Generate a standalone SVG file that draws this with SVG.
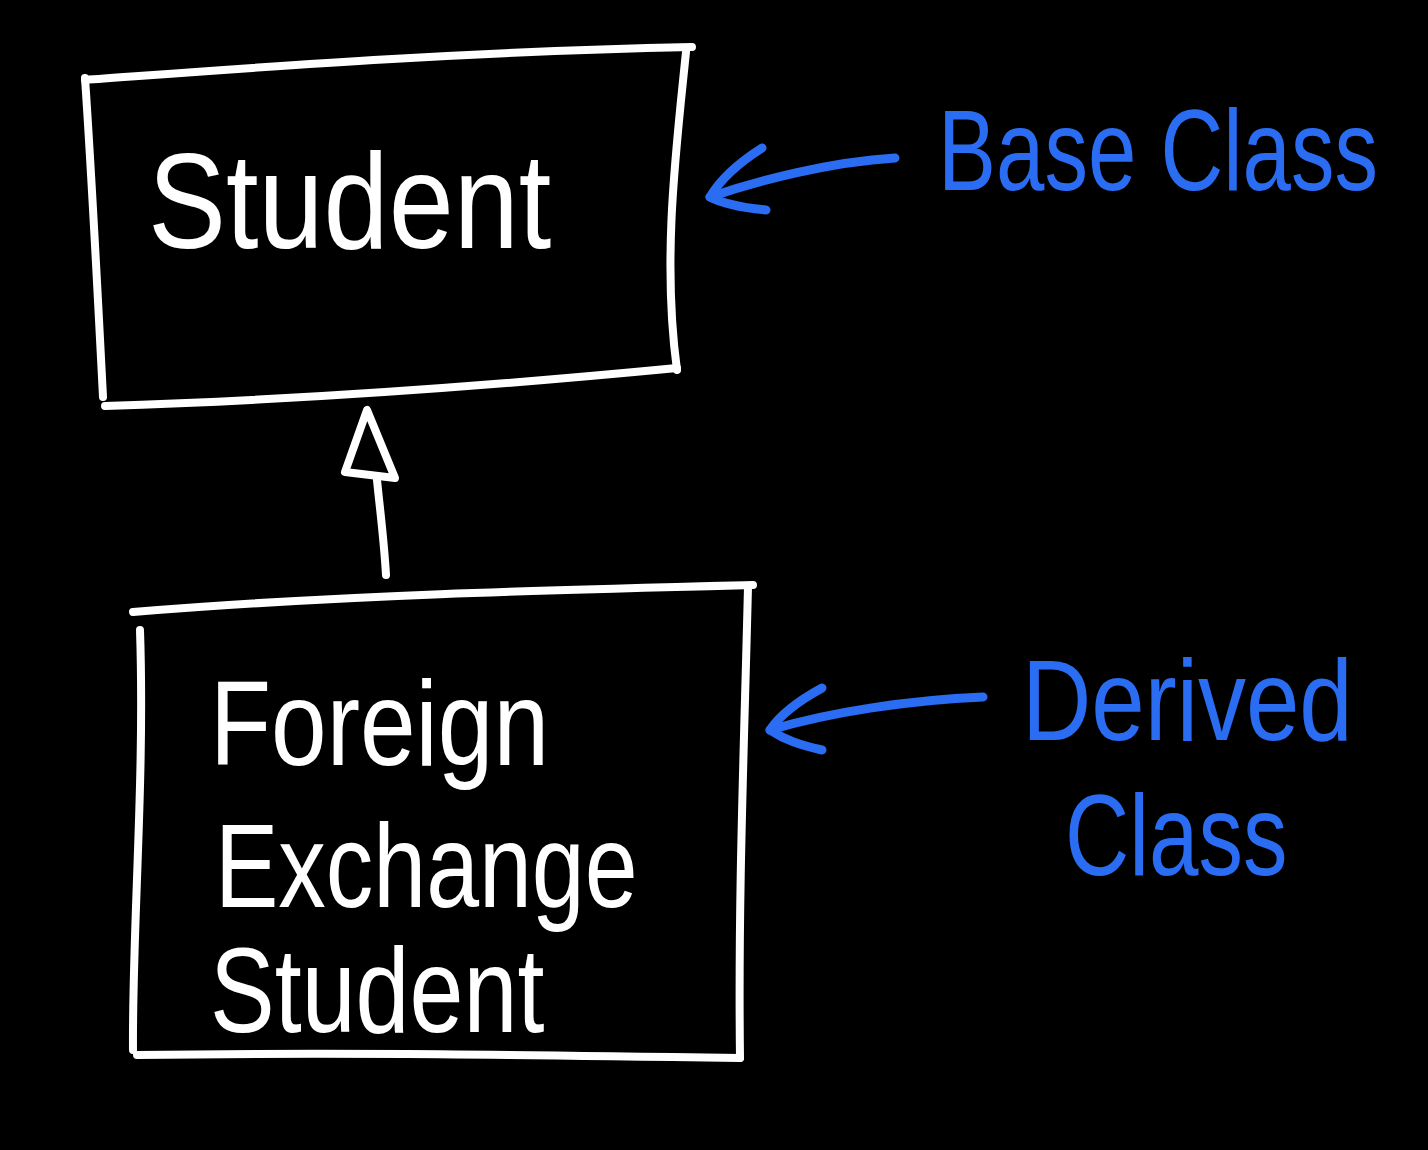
<svg xmlns="http://www.w3.org/2000/svg" width="1428" height="1150" viewBox="0 0 1428 1150">
<style>
.w{fill:none;stroke:#fff;stroke-width:8;stroke-linecap:round;stroke-linejoin:round}
.b{fill:none;stroke:#2a6cf2;stroke-width:9;stroke-linecap:round;stroke-linejoin:round}
.tw{fill:#fff;font-family:"Liberation Sans","DejaVu Sans",sans-serif}
.tb{fill:#2a6cf2;font-family:"Liberation Sans","DejaVu Sans",sans-serif}
</style>
<rect width="1428" height="1150" fill="#000"/>
<g id="student">
<path class="w" d="M85,80 C250,68 450,52 692,47"/>
<path class="w" d="M686,52 C676,150 662,260 677,370"/>
<path class="w" d="M85,78 C92,180 98,300 103,397"/>
<path class="w" d="M105,406 C300,400 500,385 677,368"/>
<text class="tw" transform="translate(148,248) scale(1,1.15)" font-size="117">Student</text>
</g>
<g id="foreign">
<path class="w" d="M133,612 C340,595 550,590 753,585"/>
<path class="w" d="M748,587 C744,750 738,900 740,1058"/>
<path class="w" d="M140,630 C145,780 132,930 133,1050"/>
<path class="w" d="M137,1055 C340,1052 540,1055 740,1058"/>
<text class="tw" transform="translate(210,765) scale(1,1.2)" font-size="100">Foreign</text>
<text class="tw" transform="translate(215,907) scale(1,1.25)" font-size="95">Exchange</text>
<text class="tw" transform="translate(210,1032) scale(1,1.24)" font-size="97">Student</text>
</g>
<g id="connectors">
<path class="w" d="M386,575 C384,540 380,510 377,480"/>
<path class="w" d="M367,410 L345,472 L395,478 Z"/>
<path class="b" d="M895,158 C830,162 760,180 710,197"/>
<path class="b" d="M762,148 C740,162 720,180 710,197 C725,205 745,208 766,210"/>
<path class="b" d="M983,697 C910,700 830,712 770,730"/>
<path class="b" d="M822,688 C800,700 780,715 770,730 C785,740 800,745 822,750"/>
</g>
<g id="labels">
<text class="tb" transform="translate(938,190) scale(1,1.32)" font-size="87">Base Class</text>
<text class="tb" transform="translate(1022,740) scale(1,1.19)" font-size="96">Derived</text>
<text class="tb" transform="translate(1065,875) scale(1,1.29)" font-size="89">Class</text>
</g>
</svg>
